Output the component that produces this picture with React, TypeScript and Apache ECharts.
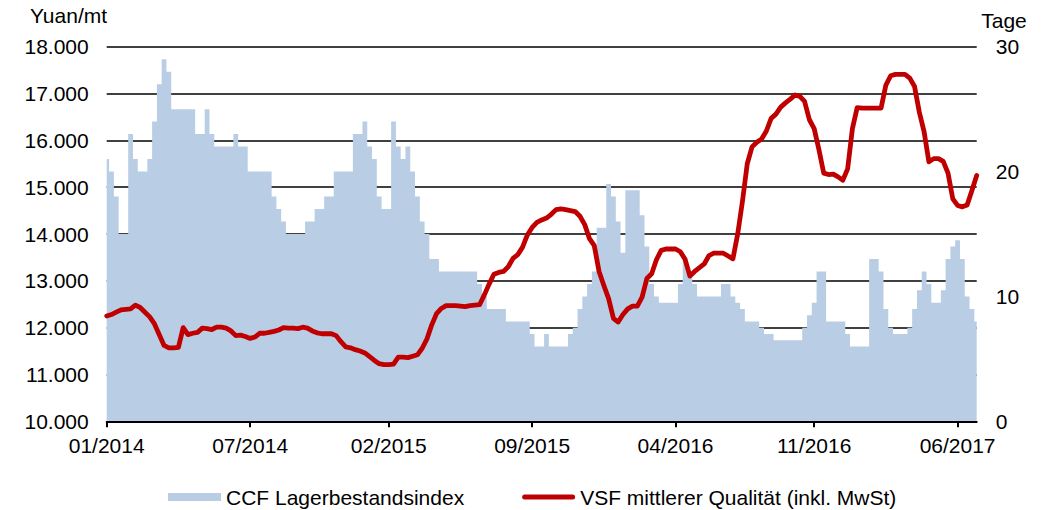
import React, { useEffect, useRef } from "react";
import * as echarts from "echarts";

const FONT = "'Liberation Sans', Arial, sans-serif";

// weekly observations, Jan 2014 – Jun/Jul 2017
const WEEK_COUNT = 183;
const START = Date.UTC(2014, 0, 3);
const CATEGORIES: string[] = Array.from({ length: WEEK_COUNT }, (_, i) => {
  const d = new Date(START + i * 7 * 86400000);
  return `${String(d.getUTCDate()).padStart(2, "0")}.${String(d.getUTCMonth() + 1).padStart(2, "0")}.${d.getUTCFullYear()}`;
});

const TICK_INDEX = [0, 30, 59, 89, 119, 148, 178];
const TICK_LABELS = ["01/2014", "07/2014", "02/2015", "09/2015", "04/2016", "11/2016", "06/2017"];

const SERIES_NAMES = ["CCF Lagerbestandsindex", "VSF mittlerer Qualität (inkl. MwSt)"];

// CCF inventory index (days) – right axis
const CCF_DAYS = [
  21, 20, 18, 15, 15, 23, 21, 20, 20, 21,
  24, 27, 29, 28, 25, 25, 25, 25, 25, 23,
  23, 25, 23, 22, 22, 22, 22, 23, 22, 22,
  20, 20, 20, 20, 20, 18, 17, 16, 15, 15,
  15, 15, 16, 16, 17, 17, 18, 18, 20, 20,
  20, 20, 23, 23, 24, 22, 21, 18, 17, 17,
  24, 22, 21, 22, 20, 18, 16, 15, 13, 13,
  12, 12, 12, 12, 12, 12, 12, 12, 11, 10,
  9, 9, 9, 9, 8, 8, 8, 8, 8, 7,
  6, 6, 7, 6, 6, 6, 6, 7, 7.5, 9,
  10, 11, 12, 15.5, 15.5, 19, 18, 16, 13.5, 18.5,
  18.5, 18.5, 16.5, 14, 11, 10, 9.5, 9.5, 9.5, 9.5,
  11, 13, 12, 11, 10, 10, 10, 10, 10, 11,
  11, 10, 9.5, 9, 8, 8, 8, 7.5, 7, 7,
  6.5, 6.5, 6.5, 6.5, 6.5, 6.5, 7.5, 8.5, 9.5, 12,
  12, 8, 8, 8, 8, 7, 6, 6, 6, 6,
  13, 13, 12, 9, 7.5, 7, 7, 7, 7.5, 9,
  10.5, 12, 11, 9.5, 9.5, 10.5, 13, 14, 14.5, 13,
  10, 9, 8,
];

// VSF price, medium quality incl. VAT (Yuan/mt) – left axis
const VSF_PRICE = [
  12250, 12280, 12330, 12380, 12390, 12400, 12480, 12430, 12330, 12230,
  12080, 11850, 11620, 11570, 11570, 11580, 12000, 11850, 11880, 11900,
  11990, 11980, 11960, 12010, 12010, 11990, 11930, 11830, 11840, 11810,
  11770, 11800, 11880, 11880, 11900, 11920, 11950, 12000, 11990, 11990,
  11980, 12010, 11990, 11930, 11890, 11870, 11870, 11870, 11830, 11700,
  11590, 11570, 11530, 11500, 11460, 11380, 11300, 11230, 11210, 11210,
  11220, 11370, 11370, 11360, 11390, 11420, 11560, 11760, 12060, 12300,
  12410, 12470, 12470, 12470, 12460, 12450, 12470, 12480, 12490, 12700,
  12930, 13140, 13180, 13200, 13300, 13480, 13560, 13720, 13980, 14140,
  14250, 14300, 14340, 14420, 14520, 14536, 14520, 14500, 14480, 14380,
  14200, 13900, 13750, 13200, 12900, 12620, 12200, 12120, 12280, 12400,
  12460, 12460, 12650, 13050, 13150, 13450, 13650, 13680, 13680, 13680,
  13620, 13460, 13100, 13200, 13280, 13360, 13540, 13590, 13590, 13590,
  13530, 13470, 14000, 14700, 15500, 15860, 15960, 16030, 16200, 16470,
  16560, 16710, 16800, 16880, 16970, 16940, 16830, 16440, 16250, 15800,
  15300, 15270, 15280, 15220, 15150, 15390, 16250, 16700, 16690, 16690,
  16690, 16690, 16690, 17180, 17380, 17410, 17410, 17410, 17330, 17150,
  16600, 16180, 15540, 15610, 15610, 15550, 15300, 14750, 14610, 14580,
  14620, 14930, 15250,
];

const isTick = (index: number) => TICK_INDEX.includes(index);

const RED_LINE_ICON = "path://M2.5,0 L50.5,0 A2.5,2.5 0 0 1 50.5,5 L2.5,5 A2.5,2.5 0 0 1 2.5,0 Z";

export default function App() {
  const ref = useRef<HTMLDivElement>(null);

  useEffect(() => {
    document.body.style.margin = "0";
    if (!ref.current) return;
    const chart = echarts.init(ref.current, undefined, { renderer: "svg" });
    const labelStyle = { fontSize: 21, color: "#000", fontFamily: FONT };
    chart.setOption({
      animation: false,
      backgroundColor: "#fff",
      textStyle: { fontFamily: FONT },
      grid: { left: 106.7, right: 69.3, top: 46.7, bottom: 88.7, containLabel: false },
      legend: {
        left: 168,
        top: 486.5,
        padding: 0,
        itemWidth: 53,
        itemHeight: 8,
        itemGap: 58,
        symbolKeepAspect: true,
        textStyle: labelStyle,
        data: [
          { name: SERIES_NAMES[0], icon: "rect", itemStyle: { color: "#b9cde5" } },
          { name: SERIES_NAMES[1], icon: RED_LINE_ICON, itemStyle: { color: "#c00000" } },
        ],
      },
      graphic: [
        {
          type: "text",
          x: 30,
          y: 15.5,
          style: { text: "Yuan/mt", font: `21px ${FONT}`, fill: "#000", textAlign: "left", textVerticalAlign: "middle" },
        },
        {
          type: "text",
          x: 1004,
          y: 20.5,
          style: { text: "Tage", font: `21px ${FONT}`, fill: "#000", textAlign: "center", textVerticalAlign: "middle" },
        },
      ],
      xAxis: {
        type: "category",
        data: CATEGORIES,
        boundaryGap: false,
        z: 5,
        axisLine: { lineStyle: { color: "#000", width: 2 } },
        axisTick: { interval: isTick, length: 6, lineStyle: { color: "#000", width: 2 } },
        axisLabel: {
          ...labelStyle,
          interval: isTick,
          margin: 14,
          formatter: (_v: string, i: number) => {
            const k = TICK_INDEX.indexOf(i);
            return k >= 0 ? TICK_LABELS[k] : "";
          },
        },
        splitLine: { show: false },
      },
      yAxis: [
        {
          type: "value",
          position: "left",
          min: 10000,
          max: 18000,
          interval: 1000,
          axisLine: { show: false },
          axisTick: { show: false },
          axisLabel: {
            ...labelStyle,
            margin: 18,
            formatter: (v: number) => `${Math.round(v / 1000)}.000`,
          },
          splitLine: { show: true, lineStyle: { color: "#000", width: 1.5 } },
        },
        {
          type: "value",
          position: "right",
          min: 0,
          max: 30,
          interval: 10,
          axisLine: { show: false },
          axisTick: { show: false },
          axisLabel: { ...labelStyle, margin: 19 },
          splitLine: { show: false },
        },
      ],
      series: [
        {
          name: SERIES_NAMES[0],
          type: "line",
          yAxisIndex: 1,
          data: CCF_DAYS,
          step: "middle",
          symbol: "none",
          lineStyle: { width: 0, opacity: 0 },
          itemStyle: { color: "#b9cde5" },
          areaStyle: { color: "#b9cde5", opacity: 1 },
          z: 1,
        },
        {
          name: SERIES_NAMES[1],
          type: "line",
          yAxisIndex: 0,
          data: VSF_PRICE,
          symbol: "none",
          itemStyle: { color: "#c00000" },
          lineStyle: { color: "#c00000", width: 4.8, cap: "round", join: "round" },
          z: 3,
        },
      ],
    });
    return () => chart.dispose();
  }, []);

  return <div ref={ref} style={{ width: 1046, height: 510 }} />;
}
